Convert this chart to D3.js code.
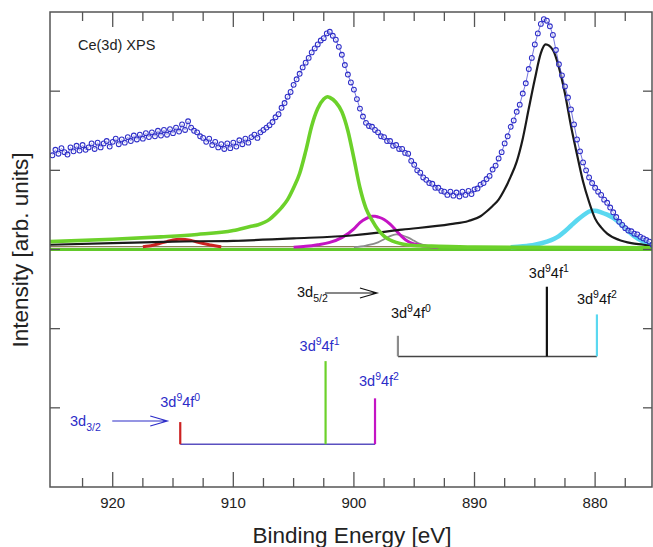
<!DOCTYPE html>
<html>
<head>
<meta charset="utf-8">
<title>Ce(3d) XPS</title>
<script src="https://d3js.org/d3.v7.min.js"></script>
<style>
  body { margin: 0; background: #fff; }
  text { font-family: "Liberation Sans", Arial, sans-serif; }
</style>
</head>
<body>
<svg id="chart" width="653" height="547"></svg>
<script>
// measured spectrum, 0.25 eV steps starting at 925 eV
var eStart = 925, eStep = 0.25;
var spectrum = [
  1.19,1.26,1.21,1.28,1.23,1.20,1.29,1.24,1.31,1.25,1.32,1.26,1.29,1.34,1.27,1.35,
  1.29,1.34,1.37,1.30,1.36,1.40,1.33,1.39,1.35,1.42,1.37,1.44,1.39,1.45,1.40,1.47,
  1.42,1.48,1.43,1.50,1.44,1.51,1.45,1.52,1.47,1.54,1.49,1.58,1.51,1.62,1.54,1.50,
  1.48,1.43,1.41,1.36,1.40,1.32,1.36,1.29,1.33,1.27,1.34,1.28,1.35,1.30,1.38,1.33,
  1.40,1.35,1.42,1.45,1.41,1.48,1.51,1.54,1.57,1.61,1.67,1.71,1.79,1.85,1.93,1.99,
  2.08,2.15,2.22,2.30,2.36,2.42,2.49,2.54,2.59,2.64,2.67,2.73,2.75,2.70,2.65,2.56,
  2.46,2.33,2.21,2.11,2.02,1.90,1.78,1.68,1.60,1.56,1.55,1.51,1.48,1.43,1.42,1.37,
  1.37,1.31,1.32,1.27,1.27,1.22,1.21,1.12,1.07,1.00,0.97,0.91,0.88,0.84,0.83,0.78,
  0.78,0.74,0.73,0.69,0.73,0.68,0.72,0.67,0.73,0.69,0.74,0.70,0.76,0.77,0.82,0.84,
  0.89,0.93,1.01,1.06,1.15,1.23,1.34,1.43,1.55,1.63,1.74,1.83,1.97,2.10,2.28,2.42,
  2.59,2.73,2.85,2.91,2.89,2.82,2.71,2.52,2.34,2.20,2.06,1.92,1.77,1.58,1.39,1.24,
  1.10,1.00,0.91,0.84,0.78,0.73,0.69,0.63,0.59,0.53,0.47,0.41,0.35,0.31,0.27,0.24,
  0.23,0.20,0.19,0.16,0.14,0.12,0.10,0.06
];

// fitted components [energy, intensity]
var red = [[917.5,0.035],[917,0.045],[916,0.08],[915.5,0.10],[915,0.12],[914.5,0.13],
  [914,0.125],[913.5,0.115],[913,0.095],[912,0.06],[911.3,0.04],[911,0.035]];
var green = [[925.2,0.10],[920,0.13],[916,0.16],[913,0.19],[910,0.24],[908.6,0.29],[908,0.31],
  [907,0.38],[906.5,0.45],[906,0.53],[905.5,0.63],[905,0.78],[904.5,0.96],[904,1.24],[903.5,1.56],
  [903,1.78],[902.5,1.90],[902.2,1.93],[902,1.92],[901.5,1.86],[901,1.74],[900.5,1.50],[900,1.15],
  [899.5,0.78],[899,0.52],[898.5,0.37],[898,0.25],[897.5,0.17],[897,0.12],[896.5,0.09],[896,0.07],
  [895,0.05],[893,0.04],[890,0.03],[875.2,0.02]];
var magenta = [[905,0.03],[904,0.04],[903,0.06],[902,0.09],[901,0.15],[900,0.26],[899.5,0.34],
  [899,0.39],[898.5,0.42],[898.25,0.42],[898,0.41],[897.5,0.38],[897,0.32],[896.5,0.24],[896,0.16],
  [895.5,0.10],[895,0.07],[894,0.04],[893,0.03]];
var gray = [[900,0.03],[899,0.05],[898,0.09],[897.5,0.13],[897,0.17],[896.5,0.19],[896,0.18],
  [895.5,0.15],[895,0.11],[894.5,0.07],[894,0.05],[893,0.03]];
var black = [[925.2,0.06],[920,0.08],[915,0.10],[910,0.11],[905,0.14],[900,0.18],[896,0.25],[892,0.32],
  [890.5,0.36],[889.5,0.42],[889,0.48],[888.5,0.55],[888,0.63],[887.5,0.76],[887,0.92],[886.5,1.11],
  [886,1.40],[885.5,1.78],[885,2.15],[884.5,2.48],[884.1,2.59],[883.5,2.52],[883,2.30],[882.5,1.97],
  [882,1.56],[881.5,1.20],[881,0.86],[880.5,0.60],[880,0.39],[879.5,0.28],[879,0.20],[878,0.12],
  [877,0.08],[876,0.06],[875.2,0.04]];
var cyan = [[887,0.03],[886,0.04],[885,0.06],[884,0.10],[883,0.17],[882.5,0.23],[882,0.30],
  [881.5,0.37],[881,0.43],[880.5,0.48],[880.2,0.49],[880,0.49],[879.5,0.47],[879,0.44],[878.5,0.40],
  [878,0.34],[877.5,0.27],[877,0.20],[876.5,0.14],[876,0.10],[875.5,0.07],[875.2,0.05]];

// multiplet sticks
var sticks32E = [914.4, 902.35, 898.25];
var sticks32H = [-2.18, -1.41, -1.88];
var base32 = -2.46;
var sticks52E = [896.35, 884.0, 879.85];
var sticks52H = [-1.09, -0.47, -0.82];
var base52 = -1.35;
var stickSup = ["0", "1", "2"];

var xTicksMajor = [920, 910, 900, 890, 880];
var yTicks = [-2, -1, 0, 1, 2];

var svg = d3.select("#chart");
var pL = 50, pR = 652, pT = 12, pB = 487;

var x = d3.scaleLinear().domain([925.2, 875.2]).range([pL, 653]);
var y = d3.scaleLinear().domain([-3, 3]).range([pB, pT]);

svg.append("clipPath").attr("id", "clip")
  .append("rect").attr("x", pL).attr("y", pT).attr("width", pR - pL).attr("height", pB - pT);

var plot = svg.append("g").attr("clip-path", "url(#clip)");

var line = d3.line()
  .x(function(d) { return x(d[0]); })
  .y(function(d) { return y(d[1]); })
  .curve(d3.curveMonotoneX);

// baseline
plot.append("line").attr("x1", pL).attr("x2", pR)
  .attr("y1", y(0)).attr("y2", y(0))
  .attr("stroke", "#62c92a").attr("stroke-width", 3);
plot.append("line").attr("x1", pL).attr("x2", pR)
  .attr("y1", y(0.035)).attr("y2", y(0.035))
  .attr("stroke", "#6b5a2a").attr("stroke-width", 1);

// components
var comps = [
  {d: gray, c: "#8c8c8c", w: 1.8},
  {d: red, c: "#cc2222", w: 3},
  {d: magenta, c: "#c414c4", w: 3},
  {d: cyan, c: "#5ad8f0", w: 4.5},
  {d: black, c: "#1a1a1a", w: 2.2},
  {d: green, c: "#6cd12a", w: 3.6}
];
comps.forEach(function(cp) {
  plot.append("path")
    .datum(cp.d.slice().sort(function(a, b) { return b[0] - a[0]; }))
    .attr("d", line)
    .attr("fill", "none")
    .attr("stroke", cp.c)
    .attr("stroke-width", cp.w);
});

// measured data
var pts = spectrum.map(function(v, i) { return [eStart - i * eStep, v]; });
plot.append("path").datum(pts)
  .attr("d", d3.line().x(function(d) { return x(d[0]); }).y(function(d) { return y(d[1]); }))
  .attr("fill", "none").attr("stroke", "#3a3ad0").attr("stroke-width", 0.7);
plot.selectAll("circle.pt").data(pts).enter().append("circle")
  .attr("class", "pt")
  .attr("cx", function(d) { return x(d[0]); })
  .attr("cy", function(d) { return y(d[1]); })
  .attr("r", 2.4)
  .attr("fill", "#fff").attr("fill-opacity", 0.4)
  .attr("stroke", "#2e2ec8").attr("stroke-width", 1.05);

// stick diagrams
var blueC = "#2c2cc8";
var c32 = ["#cc2222", "#6cd12a", "#c414c4"];
var c52 = ["#8c8c8c", "#111", "#5ad8f0"];

svg.append("line")
  .attr("x1", x(sticks32E[0])).attr("x2", x(sticks32E[2]))
  .attr("y1", y(base32)).attr("y2", y(base32))
  .attr("stroke", "#5a50c0").attr("stroke-width", 1.5);
svg.append("line")
  .attr("x1", x(sticks52E[0])).attr("x2", x(sticks52E[2]))
  .attr("y1", y(base52)).attr("y2", y(base52))
  .attr("stroke", "#444").attr("stroke-width", 1.5);

sticks32E.forEach(function(e, i) {
  svg.append("line").attr("x1", x(e)).attr("x2", x(e))
    .attr("y1", y(base32)).attr("y2", y(sticks32H[i]))
    .attr("stroke", c32[i]).attr("stroke-width", 2.2);
});
sticks52E.forEach(function(e, i) {
  svg.append("line").attr("x1", x(e)).attr("x2", x(e))
    .attr("y1", y(base52)).attr("y2", y(sticks52H[i]))
    .attr("stroke", c52[i]).attr("stroke-width", 2.2);
});

function configLabel(g, px, py, sup, color) {
  var t = g.append("text").attr("x", px).attr("y", py)
    .attr("fill", color).attr("font-size", 14.5);
  t.append("tspan").text("3d");
  t.append("tspan").attr("dy", -6).attr("font-size", 10.5).text("9");
  t.append("tspan").attr("dy", 6).text("4f");
  t.append("tspan").attr("dy", -6).attr("font-size", 10.5).text(sup);
}
// label offsets: [dx from stick, dy above stick top]
var off32 = [[-20, -15], [-26, -10], [-16, -12]];
var off52 = [[-7, -18], [-18, -9], [-20, -10]];
sticks32E.forEach(function(e, i) {
  configLabel(svg, x(e) + off32[i][0], y(sticks32H[i]) + off32[i][1], stickSup[i], blueC);
});
sticks52E.forEach(function(e, i) {
  configLabel(svg, x(e) + off52[i][0], y(sticks52H[i]) + off52[i][1], stickSup[i], "#111");
});

function levelLabel(px, py, sub, color, ax1, ax2, ay) {
  var t = svg.append("text").attr("x", px).attr("y", py)
    .attr("fill", color).attr("font-size", 14.5);
  t.append("tspan").text("3d");
  t.append("tspan").attr("dy", 5).attr("font-size", 10.5).text(sub);
  svg.append("path")
    .attr("d", "M" + ax1 + "," + ay + "H" + ax2 + "M" + (ax2 - 17) + "," + (ay - 5) + "L" + ax2 + "," + ay + "L" + (ax2 - 17) + "," + (ay + 5))
    .attr("fill", "none").attr("stroke", color).attr("stroke-width", 1.2);
}
levelLabel(70, 426, "3/2", blueC, x(sticks32E[0]) - 68, x(sticks32E[0]) - 13, 421);
levelLabel(297, 297, "5/2", "#111", x(sticks52E[0]) - 73, x(sticks52E[0]) - 21, 293);

// frame
var axisC = "#555";
svg.append("rect").attr("x", pL).attr("y", pT)
  .attr("width", pR - pL).attr("height", pB - pT)
  .attr("fill", "none").attr("stroke", axisC).attr("stroke-width", 1.5);

// x ticks (2.5 eV minor, 10 eV major)
var xMinor = d3.range(922.5, 875, -2.5);
xMinor.forEach(function(t) {
  var major = xTicksMajor.indexOf(t) >= 0;
  var len = major ? 15 : 9;
  svg.append("line").attr("x1", x(t)).attr("x2", x(t))
    .attr("y1", pB).attr("y2", pB - len)
    .attr("stroke", axisC).attr("stroke-width", 1.3);
  svg.append("line").attr("x1", x(t)).attr("x2", x(t))
    .attr("y1", pT).attr("y2", pT + len)
    .attr("stroke", axisC).attr("stroke-width", 1.3);
});
xTicksMajor.forEach(function(t) {
  svg.append("text").attr("x", x(t)).attr("y", 508)
    .attr("text-anchor", "middle").attr("font-size", 15).attr("fill", "#222")
    .text(t);
});

// y ticks
yTicks.forEach(function(t) {
  svg.append("line").attr("x1", pL).attr("x2", pL + 10)
    .attr("y1", y(t)).attr("y2", y(t)).attr("stroke", axisC).attr("stroke-width", 1.3);
  svg.append("line").attr("x1", pR).attr("x2", pR - 9)
    .attr("y1", y(t)).attr("y2", y(t)).attr("stroke", axisC).attr("stroke-width", 1.3);
});

// titles
svg.append("text").attr("x", 78).attr("y", 50)
  .attr("font-size", 14.5).attr("fill", "#222").text("Ce(3d) XPS");
svg.append("text").attr("x", 352).attr("y", 543)
  .attr("text-anchor", "middle").attr("font-size", 22.5).attr("fill", "#222")
  .text("Binding Energy [eV]");
svg.append("text").attr("transform", "translate(28,250) rotate(-90)")
  .attr("text-anchor", "middle").attr("font-size", 22.5).attr("fill", "#222")
  .text("Intensity [arb. units]");
</script>
</body>
</html>
